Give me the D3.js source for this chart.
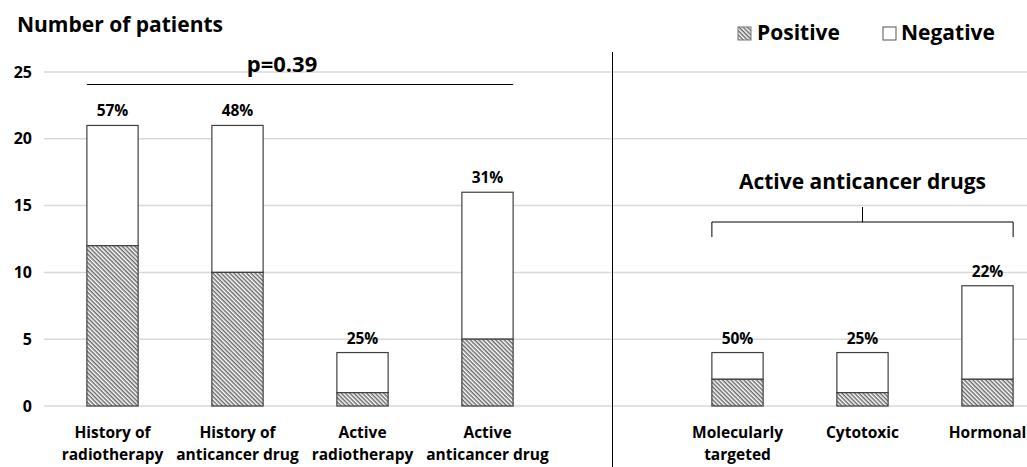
<!DOCTYPE html>
<html>
<head>
<meta charset="utf-8">
<script src="https://cdn.jsdelivr.net/npm/d3@7/dist/d3.min.js"></script>
<style>
  body { margin: 0; background: #fff; }
  text { font-family: "Open Sans", sans-serif; font-weight: bold; fill: #000; }
</style>
</head>
<body>
<div id="chart"></div>
<script>
// data
var categories = ["History of|radiotherapy", "History of|anticancer drug", "Active|radiotherapy",
                  "Active|anticancer drug", "", "Molecularly|targeted", "Cytotoxic", "Hormonal"];
var positive = [12, 10, 1, 5, null, 2, 1, 2];
var negative = [9, 11, 3, 11, null, 2, 3, 7];
var percentLabels = ["57%", "48%", "25%", "31%", "", "50%", "25%", "22%"];
var yTicks = [0, 5, 10, 15, 20, 25];

var width = 1027, height = 467;
var margin = {top: 72, left: 50, bottom: 61};
var plotH = height - margin.top - margin.bottom;

var svg = d3.select("#chart").append("svg")
    .attr("width", width)
    .attr("height", height);

var defs = svg.append("defs");
var pat = defs.append("pattern")
    .attr("id", "hatch")
    .attr("patternUnits", "userSpaceOnUse")
    .attr("width", 3)
    .attr("height", 3)
    .attr("patternTransform", "rotate(45)");
pat.append("rect").attr("width", 3).attr("height", 3).attr("fill", "#fff");
pat.append("rect").attr("width", 3).attr("height", 1.5).attr("fill", "#6a6a6a");

var x = d3.scaleBand()
    .domain(d3.range(categories.length))
    .range([margin.left, margin.left + 1000])
    .paddingInner(0.59)
    .paddingOuter(0.295);

var y = d3.scaleLinear()
    .domain([0, 25])
    .range([margin.top + plotH, margin.top]);

// gridlines
svg.append("g").selectAll("line")
    .data(yTicks)
    .enter().append("line")
    .attr("x1", 44).attr("x2", width)
    .attr("y1", d => y(d)).attr("y2", d => y(d))
    .attr("stroke", "#d9d9d9")
    .attr("stroke-width", 1.5);

// y tick labels
svg.append("g").selectAll("text")
    .data(yTicks)
    .enter().append("text")
    .attr("x", 32)
    .attr("y", d => y(d))
    .attr("dy", "0.35em")
    .attr("text-anchor", "end")
    .style("font-size", "16px")
    .text(d => d);

svg.append("text")
    .attr("x", 17).attr("y", 32)
    .style("font-size", "21px")
    .text("Number of patients");

// separator
var sepX = x(4) + x.bandwidth() / 2;
svg.append("line")
    .attr("x1", sepX).attr("x2", sepX)
    .attr("y1", 52).attr("y2", height)
    .attr("stroke", "#000").attr("stroke-width", 1);

// bars
var idx = d3.range(categories.length).filter(i => positive[i] !== null);
var bars = svg.append("g");
bars.selectAll(".neg")
    .data(idx)
    .enter().append("rect")
    .attr("x", i => x(i))
    .attr("width", x.bandwidth())
    .attr("y", i => y(positive[i] + negative[i]))
    .attr("height", i => y(positive[i]) - y(positive[i] + negative[i]))
    .attr("fill", "#fff")
    .attr("stroke", "#404040").attr("stroke-width", 1.2);
bars.selectAll(".pos")
    .data(idx)
    .enter().append("rect")
    .attr("x", i => x(i))
    .attr("width", x.bandwidth())
    .attr("y", i => y(positive[i]))
    .attr("height", i => y(0) - y(positive[i]))
    .attr("fill", "url(#hatch)")
    .attr("stroke", "#404040").attr("stroke-width", 1.2);

// percent labels
svg.append("g").selectAll("text")
    .data(idx)
    .enter().append("text")
    .attr("x", i => x(i) + x.bandwidth() / 2)
    .attr("y", i => y(positive[i] + negative[i]) - 9)
    .attr("text-anchor", "middle")
    .style("font-size", "15.5px")
    .text(i => percentLabels[i]);

// category labels
var cat = svg.append("g").selectAll("text")
    .data(idx)
    .enter().append("text")
    .attr("x", i => x(i) + x.bandwidth() / 2)
    .attr("y", 438)
    .attr("text-anchor", "middle")
    .style("font-size", "15.5px");
cat.each(function(i) {
    var lines = categories[i].split("|");
    var t = d3.select(this);
    lines.forEach(function(l, k) {
        t.append("tspan")
            .attr("x", x(i) + x.bandwidth() / 2)
            .attr("dy", k === 0 ? 0 : 22)
            .text(l);
    });
});

// p-value line
svg.append("line")
    .attr("x1", x(0)).attr("x2", x(3) + x.bandwidth())
    .attr("y1", 84.5).attr("y2", 84.5)
    .attr("stroke", "#000").attr("stroke-width", 1);
svg.append("text")
    .attr("x", 282)
    .attr("y", 72)
    .attr("text-anchor", "middle")
    .style("font-size", "22px")
    .text("p=0.39");

// bracket
var bx1 = x(5), bx2 = x(7) + x.bandwidth(), bmid = (bx1 + bx2) / 2;
svg.append("path")
    .attr("d", "M" + bx1 + ",237V222H" + bx2 + "V237M" + bmid + ",222V207")
    .attr("fill", "none")
    .attr("stroke", "#000").attr("stroke-width", 1);
svg.append("text")
    .attr("x", bmid).attr("y", 189)
    .attr("text-anchor", "middle")
    .style("font-size", "21px")
    .text("Active anticancer drugs");

// legend
var legend = svg.append("g");
legend.append("rect")
    .attr("x", 738).attr("y", 27).attr("width", 13).attr("height", 13)
    .attr("fill", "url(#hatch)").attr("stroke", "#777");
legend.append("text")
    .attr("x", 757).attr("y", 40)
    .style("font-size", "21px")
    .text("Positive");
legend.append("rect")
    .attr("x", 883).attr("y", 27).attr("width", 13).attr("height", 13)
    .attr("fill", "#fff").attr("stroke", "#555");
legend.append("text")
    .attr("x", 901).attr("y", 40)
    .style("font-size", "21px")
    .text("Negative");
</script>
</body>
</html>
